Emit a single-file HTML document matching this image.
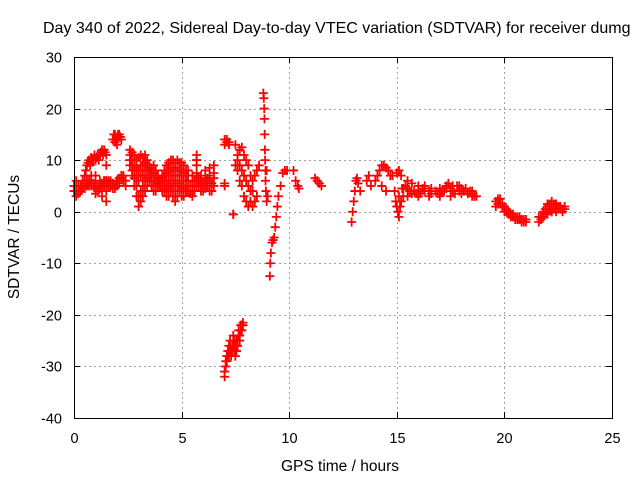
<!DOCTYPE html>
<html><head><meta charset="utf-8"><style>
body{margin:0;background:#fff}
svg{display:block;font-family:"Liberation Sans",sans-serif}
</style></head><body>
<svg id="chart" width="640" height="480">
<text x="43" y="33" font-size="16" fill="#000">Day 340 of 2022, Sidereal Day-to-day VTEC variation (SDTVAR) for receiver dumg</text>
<text x="340" y="471" font-size="15.5" text-anchor="middle">GPS time / hours</text>
<text transform="translate(19,237) rotate(-90)" font-size="15.5" text-anchor="middle">SDTVAR / TECUs</text>
<g id="grid"></g><g id="ticks"></g><g id="marks"></g>
<rect x="74.5" y="57.5" width="538" height="361" fill="none" stroke="#000"/>
</svg>
<script>
const xTicks=[0,5,10,15,20,25];
const yTicks=[-40,-30,-20,-10,0,10,20,30];
const hoursA=[0,0.1,0.2,0.3,0.4,0.5,0.6,0.7,0.8,0.9,1.0,1.1,1.2,1.3,1.4,1.5,1.6,1.7,1.8,1.9,2.0,2.1,2.2,2.3,2.4];
const valuesA=[5,4,3.5,4,4.5,4.5,5,5,5,5,5,5,5,5.5,5,5,5,5,4.5,4.5,5,5.5,6.5,7,6];
const valuesA2=[4,3,4,5,5,5.5,5.5,6,6,5.5,4.5,4,4.5,5,6,6,5.5,6,5.5,5,6,6.5,7,6,5];
const hoursB=[0.5,0.6,0.7,0.8,0.9,1.0,1.1,1.2,1.3,1.4,1.5,1.5,1.5,1.5,1.5,1.8,1.9,2.0,2.1,2.2,2.0,0.1,0.2,0.4,0.6,0.8,1.0,1.2,1.4,1.6,1.8,2.0,2.2,1.0,1.3];
const valuesB=[7,9,10,10.5,10,10,11,11,12,12,11,9,6,4,2,14,15,14.5,15,14,13,6,5,6,6,7,7,6,6,6,5.5,6,7,3.5,3];
const hoursB2=[0.55,0.65,0.75,0.85,0.95,1.05,1.15,1.25,1.35,1.45,1.85,1.95,2.05,2.15,1.9,2.0,2.1];
const valuesB2=[8,9.5,9,10,11,10.5,10,11.5,11,11.5,15,14,15,14.5,13.5,14,14.5];
const hoursC=[2.6,2.7,2.8,2.9,3.0,3.1,3.2,3.3,3.4,3.5,3.6,3.7,3.8,3.9,4.0,4.1,4.2,4.3,4.4,4.5,4.6,4.7,4.8,4.9,5.0,5.1,5.2];
const upperC=[12,11.5,11,10,10.5,11,10.5,11,10,9,8.5,9,8,7,6,7,8,9,9.5,10,10,9.5,10,9.5,9.5,9,8];
const lowerC=[9,7,5,3,1,2,3,4,5,6,5,4,4,5,5,4,4,3,3,4,3,2,3,4,3,3,4];
const midC=[10,9,8,7,6,7,7,8,8,8,7,6,6,6,5.5,6,6,6,6,7,7,6,7,7,6,6,6];
const midC2=[11,10,9,8.5,8,9,9,9.5,9,8.5,7.5,7.5,7,6.5,6,6.5,7,7.5,8,8.5,8.5,8,8.5,8,8,7.5,7];
const midC3=[10,8,6.5,5,3,4,5,6,6.5,7,6,5,5,5.5,5,5,5,4.5,4.5,5.5,5,4,5,5.5,4.5,4.5,5];
const hoursD=[5.3,5.4,5.5,5.6,5.7,5.8,5.9,6.0,6.1,6.2,6.3,6.4,6.5,5.7,5.7,5.3,5.5,5.7,5.9,6.1,6.3,6.5];
const valuesD=[4,3.5,3,4,5,5,4,4,4.5,5,4,4,5,9,11,8,7,7.5,7,8,8.5,9];
const valuesD2=[6,5,5,6,7,6.5,6,5.5,6,6.5,6,5.5,6.5,10,10,7,6,6,5.5,6,7,7.5];
const hoursE=[7.0,7.05,7.1,7.15,7.2,7.25,7.3,7.35,7.4,7.45,7.5,7.55,7.6,7.65,7.7,7.75,7.8,7.85,7.0,7.1,7.2,7.0,7.4];
const valuesE=[-31,-30,-29,-28,-28,-27,-27,-26,-26,-25,-26,-27,-25,-24,-24,-23,-22,-22,14,13.5,13,5.5,-0.5];
const valuesE2=[-32,-29,-28,-27,-26,-25,-28,-27,-24,-27,-28,-25,-26,-23,-25,-22,-23,-21.5,13,14,13.5,5,-0.5];
const hoursF=[7.5,7.6,7.7,7.8,7.9,8.0,8.1,8.2,8.3,8.4,8.5,8.6,7.5,7.6,7.7,7.8,7.9,8.0,8.1,8.2,8.3,8.4,8.5,7.6,7.7,7.8,7.9,8.0,8.1,8.2,8.3];
const valuesF=[13,11,12,12.5,11,10,9,7,6,7,8,9,9,8,6,5,3,2,1,2,1,2,3,10,9,8,7,6,5,4,4];
const hoursG=[8.8,8.82,8.84,8.85,8.86,8.87,8.88,8.9,8.9,8.92,8.95,8.95,9.0,9.1,9.12,9.15,9.2,9.25,9.3,9.35,9.4,9.45,9.5,9.6,9.7,9.8,9.9,10.2,10.3,10.4,10.45,11.2,11.3,11.4,11.5];
const valuesG=[23,22,20,18,15,12,10,8,6,4,2,8,3,-12.5,-10,-8,-6,-5.5,-5,-3,-1,1,3,5,7.5,8,8,8,6,5,4.5,6.5,6,5.5,5];
const hoursH=[12.9,12.95,13.0,13.05,13.1,13.15,13.2,13.3,13.6,13.7,13.8,14.0,14.1,14.2,14.3,14.4,14.5,14.6,14.7,14.8,14.3,14.5];
const valuesH=[-2,0,2,4,6,6.5,5.5,4,6,7,5,6,7,8,9,9,8.5,8,7,7,5,4];
const hoursI=[14.9,15.0,15.1,15.2,15.3,15.0,15.1,15.2,15.4,15.6,15.8,16.0,16.2,16.5,16.8,17.0,17.2,17.4,17.6,17.8,18.0,18.2,18.4,18.6,15.5,15.7,16.0,16.3,16.6,17.0,17.3,17.6,17.9,18.2,18.5,15.5,16.0,16.5,17.0,17.5,18.0,18.5];
const valuesI=[4,1,-1,2,3,7.5,8,7,5,4,4,4,4.5,4,4,3.5,4,5.5,4,5,4.5,4,4,3,6,5.5,5,5,4.5,4.5,5,5,5,4.5,4,3,3,3,3,3,3.5,3];
const hoursI2=[15.1,15.3,15.5,15.7,15.9,16.1,16.3,16.6,16.9,17.1,17.3,17.5,17.7,17.9,18.1,18.3,18.5,18.7,14.95,15.05,15.15,15.25];
const valuesI2=[3,4.5,4.5,3.5,3.5,3.5,4,3.5,3.5,4,4.5,4.5,3.5,4,4,3.5,3.5,3,2,0,1,4.5];
const hoursJ=[19.6,19.7,19.8,19.9,20.0,20.1,20.2,20.3,20.4,20.5,20.6,20.7,20.8,20.9,21.0,21.6,21.7,21.8,21.9,22.0,22.1,22.2,22.3,22.4,22.5,22.6,22.7,22.8,22.0,22.2,22.4];
const valuesJ=[2,2.5,2.5,1.5,1,0.5,0,-0.5,-0.5,-1,-1,-1,-1.5,-1.5,-1.5,-2,-1.5,-1,-0.5,0,0.5,1,0.5,0.5,0.5,0.5,0.5,0.5,1.5,2,1.5];
const valuesJ2=[1,1.5,1.5,1,0,0,-0.5,-1,-1,-1.5,-1.5,-1.5,-2,-2,-2,-1,-1,0,0.5,1,1.5,0,1.5,1,1,1,0,1,-0.5,0,0];
const X0=74,X1=612,Y0=57,Y1=418;
const xs=h=>X0+(h-0)/25*(X1-X0);
const ys=v=>Y1-(v+40)/70*(Y1-Y0);
const NS="http://www.w3.org/2000/svg";
const grid=document.getElementById('grid'),ticks=document.getElementById('ticks'),marks=document.getElementById('marks');
function mk(tag,attrs,parent){const e=document.createElementNS(NS,tag);for(const k in attrs)e.setAttribute(k,attrs[k]);parent.appendChild(e);return e;}
xTicks.forEach(t=>{const x=Math.round(xs(t))+0.5;
 if(t>0&&t<25){const g=mk('line',{x1:x,x2:x,y1:Y0,y2:Y1,stroke:'#a0a0a0','stroke-dasharray':'2,3'},grid);
 
 }
 mk('line',{x1:x,x2:x,y1:Y1,y2:Y1-6,stroke:'#000'},ticks);mk('line',{x1:x,x2:x,y1:Y0,y2:Y0+6,stroke:'#000'},ticks);
 const l=mk('text',{x:x,y:443,'font-size':14.5,'text-anchor':'middle'},ticks);l.textContent=t;
 
 });
yTicks.forEach(t=>{const y=Math.round(ys(t))+0.5;
 if(t>-40&&t<30){const g=mk('line',{x1:X0,x2:X1,y1:y,y2:y,stroke:'#a0a0a0','stroke-dasharray':'2,3'},grid);
 
 }
 mk('line',{x1:X0,x2:X0+6,y1:y,y2:y,stroke:'#000'},ticks);mk('line',{x1:X1,x2:X1-6,y1:y,y2:y,stroke:'#000'},ticks);
 const l=mk('text',{x:62,y:y+5,'font-size':14.5,'text-anchor':'end'},ticks);l.textContent=t;
 
 });
function plus(h,v){const x=xs(h),y=ys(v);
 const p=mk('path',{d:`M${x-4.5},${y}H${x+4.5}M${x},${y-4.5}V${y+4.5}`,stroke:'#ff0000','stroke-width':1.8,fill:'none'},marks);
 
 }
[[hoursA,valuesA],[hoursA,valuesA2],[hoursB,valuesB],[hoursB2,valuesB2],[hoursC,upperC],[hoursC,lowerC],[hoursC,midC],[hoursC,midC2],[hoursC,midC3],[hoursD,valuesD],[hoursD,valuesD2],[hoursE,valuesE],[hoursE,valuesE2],[hoursF,valuesF],[hoursG,valuesG],[hoursH,valuesH],[hoursI,valuesI],[hoursI2,valuesI2],[hoursJ,valuesJ],[hoursJ,valuesJ2]]
.forEach(([hs,vs])=>hs.forEach((h,i)=>plus(h,vs[i])));
</script>
</body></html>
